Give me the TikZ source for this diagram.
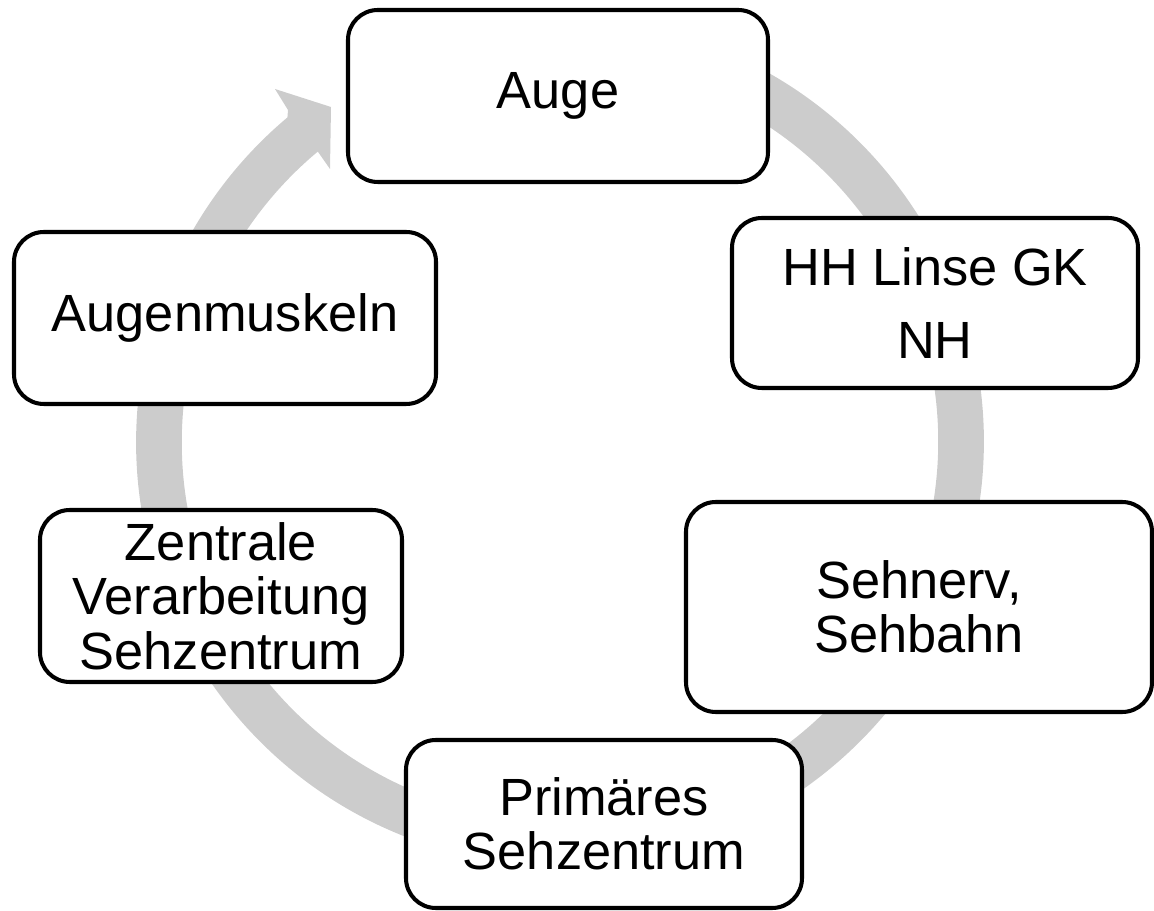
\documentclass[tikz,border=0pt]{standalone}
\usepackage{fontspec}
\setmainfont{Liberation Sans}
\usetikzlibrary{calc, positioning}
\definecolor{ringgray}{RGB}{204,204,204}
\tikzstyle{stage}=[draw=black, fill=white, line width=2.3pt, rounded corners=17pt, align=center, inner sep=0pt, font=\fontsize{29.8}{31}\selectfont]
\tikzstyle{ring}=[draw=ringgray, line width=26pt, line cap=butt]

\begin{document}
\begin{tikzpicture}[x=0.02cm, y=-0.02cm]
\useasboundingbox (0,0) rectangle (1154,911);
\coordinate (ctr) at (560,442);
\draw [ring] (ctr) ++(-80:401) arc [start angle=-80, end angle=231, radius=401];
\fill [ringgray] (275,89) -- (331,107) -- (330,169) -- (316,149) -- ($(ctr)+(230:378)$) -- ($(ctr)+(230:424)$) -- (288,110) -- cycle;
\node [stage, minimum width=420*0.02cm, minimum height=172*0.02cm] (auge) at (558,96) {Auge};
\node [stage, minimum width=406*0.02cm, minimum height=170*0.02cm] (linse) at (935,303) {HH Linse GK\\[11pt]NH};
\node [stage, minimum width=466*0.02cm, minimum height=210*0.02cm] (nerv) at (919,607) {Sehnerv,\\Sehbahn};
\node [stage, minimum width=396*0.02cm, minimum height=168*0.02cm] (primaer) at (604,824) {Primäres\\Sehzentrum};
\node [stage, minimum width=362*0.02cm, minimum height=172*0.02cm] (zentral) at (221,596) {Zentrale\\Verarbeitung\\Sehzentrum};
\node [stage, minimum width=422*0.02cm, minimum height=172*0.02cm] (muskel) at (225,318) {Augenmuskeln};
\end{tikzpicture}
\end{document}
